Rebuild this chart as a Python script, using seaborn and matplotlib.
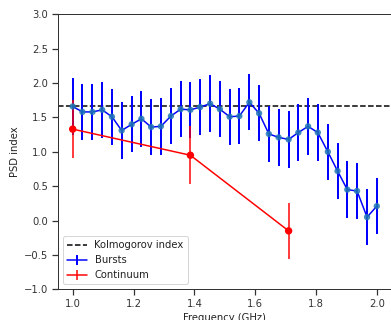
import numpy as np
import pandas as pd
import matplotlib
matplotlib.use("Agg")
import matplotlib.pyplot as plt
import seaborn as sns

# Burst PSD index per frequency channel
burst_freq = [1.000, 1.032, 1.065, 1.097, 1.129, 1.161, 1.194, 1.226,
              1.258, 1.290, 1.323, 1.355, 1.387, 1.419, 1.452, 1.484,
              1.516, 1.548, 1.581, 1.613, 1.645, 1.677, 1.710, 1.742,
              1.774, 1.806, 1.839, 1.871, 1.903, 1.935, 1.968, 2.000]
burst_psd = [1.66, 1.58, 1.58, 1.61, 1.51, 1.31, 1.40, 1.48,
             1.36, 1.37, 1.52, 1.62, 1.61, 1.65, 1.70, 1.62,
             1.51, 1.52, 1.72, 1.56, 1.26, 1.21, 1.18, 1.28,
             1.37, 1.28, 1.00, 0.72, 0.45, 0.43, 0.05, 0.21]
burst_err = [0.41] * len(burst_psd)

# Continuum PSD index
cont_freq = [1.000, 1.387, 1.710]
cont_psd = [1.33, 0.95, -0.15]
cont_err = [0.42, 0.42, 0.41]

kolmogorov = 5.0 / 3.0

x_ticks = [1.0, 1.2, 1.4, 1.6, 1.8, 2.0]
y_ticks = [-1.0, -0.5, 0.0, 0.5, 1.0, 1.5, 2.0, 2.5, 3.0]

sns.set_theme(style="ticks", rc={
    "font.size": 10, "axes.labelsize": 10, "xtick.labelsize": 10,
    "ytick.labelsize": 10, "legend.fontsize": 10,
    "axes.edgecolor": "#333333", "xtick.color": "#333333",
    "ytick.color": "#333333", "text.color": "#222222",
    "axes.labelcolor": "#222222", "axes.linewidth": 1.0,
})
plt.rcParams["font.family"] = ["DejaVu Sans"]

dpi = 72
fig = plt.figure(figsize=(391 / dpi, 320 / dpi), dpi=dpi)
ax = fig.add_axes([57.5 / 391, 30.7 / 320, 334.5 / 391, 275.0 / 320])

bursts = pd.DataFrame({"freq": burst_freq, "psd": burst_psd})
cont = pd.DataFrame({"freq": cont_freq, "psd": cont_psd})

ax.axhline(kolmogorov, color="black", ls="--", lw=1.5, label="Kolmogorov index", zorder=1)

ax.errorbar(burst_freq, burst_psd, yerr=burst_err, fmt="-", color="blue",
            lw=1.5, elinewidth=2.0, label="Bursts", zorder=2)
sns.scatterplot(data=bursts, x="freq", y="psd", ax=ax, color="#1f77b4",
                s=40, edgecolor="none", alpha=0.85, zorder=3, legend=False)

ax.errorbar(cont_freq, cont_psd, yerr=cont_err, fmt="-", color="red",
            lw=1.5, elinewidth=1.5, label="Continuum", zorder=2)
sns.scatterplot(data=cont, x="freq", y="psd", ax=ax, color="red",
                s=55, edgecolor="none", zorder=3, legend=False)

ax.set_xlim(0.95, 2.05)
ax.set_ylim(-1.0, 3.0)
ax.set_xticks(x_ticks)
ax.set_yticks(y_ticks)
ax.set_xlabel("Frequency (GHz)")
ax.set_ylabel("PSD index")
ax.legend(loc="lower left", frameon=True, fancybox=True, framealpha=0.8,
          edgecolor="#cccccc")

fig.savefig("out.png", dpi=dpi)
